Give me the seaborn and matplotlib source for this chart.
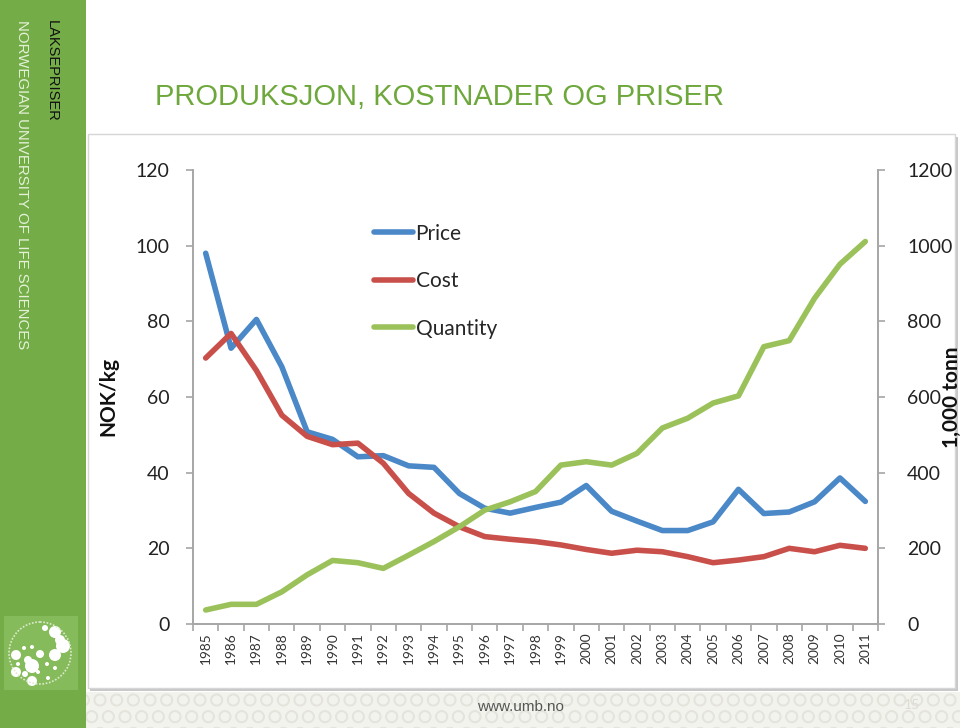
import numpy as np
import pandas as pd
import matplotlib.pyplot as plt
from matplotlib.patches import Rectangle, Circle
from matplotlib.lines import Line2D
import seaborn as sns

# data
years = list(range(1985, 2012))
price = [98.0, 72.9, 80.5, 68.0, 50.8, 48.8, 44.2, 44.5, 41.8, 41.4, 34.5, 30.6, 29.3, 30.8,
         32.2, 36.6, 29.8, 27.2, 24.7, 24.7, 27.0, 35.6, 29.2, 29.6, 32.3, 38.6, 32.4]
cost = [70.3, 76.8, 67.0, 55.2, 49.6, 47.4, 47.8, 42.5, 34.5, 29.3, 25.7, 23.1, 22.4, 21.8,
        20.9, 19.7, 18.7, 19.5, 19.1, 17.8, 16.2, 16.9, 17.8, 20.0, 19.1, 20.8, 20.0]
quantity = [37, 52, 52, 85, 130, 168, 162, 147, 182, 218, 257, 301, 323, 350,
            420, 429, 420, 451, 518, 544, 584, 603, 733, 749, 861, 951, 1011]

df = pd.DataFrame({'year': years, 'Price': price, 'Cost': cost, 'Quantity': quantity})

left_ticks = [0, 20, 40, 60, 80, 100, 120]
right_ticks = [0, 200, 400, 600, 800, 1000, 1200]

blue = '#4a88c8'
red = '#c9504a'
green = '#9bc25a'
gray = '#a6a6a6'
slide_green = '#74ad47'

sns.set_theme(style='white')
plt.rcParams['font.family'] = ['Lato', 'DejaVu Sans']

fig = plt.figure(figsize=(9.6, 7.28), dpi=100)

# slide background in pixel coordinates
bg = fig.add_axes([0, 0, 1, 1])
bg.set_xlim(0, 960)
bg.set_ylim(728, 0)
bg.axis('off')
bg.add_patch(Rectangle((0, 0), 86, 728, facecolor=slide_green, edgecolor='none'))
bg.add_patch(Rectangle((86, 692), 874, 36, facecolor='#f3f3ee', edgecolor='#e4e4dc',
                       hatch='O', linewidth=0))
bg.add_patch(Rectangle((90, 137), 868, 554, facecolor='#c8c8c8', edgecolor='none'))
bg.add_patch(Rectangle((88, 134), 867, 554, facecolor='white', edgecolor='#d6d6d6', linewidth=1))

# logo block
bg.add_patch(Rectangle((4, 616), 74, 74, facecolor='#86bb5c', edgecolor='none'))
for cx, cy, r in [(45, 628, 3), (55, 632, 6), (60, 640, 5), (63, 646, 7), (24, 648, 2),
                  (32, 647, 2), (16, 655, 5), (28, 660, 4), (40, 654, 4), (55, 655, 6),
                  (18, 664, 2), (32, 666, 7), (47, 664, 2), (55, 668, 2), (16, 672, 5),
                  (25, 674, 3), (38, 672, 2), (32, 681, 5), (48, 678, 2)]:
    bg.add_patch(Circle((cx, cy), r, facecolor='white', edgecolor='none'))
bg.add_patch(Circle((40, 653), 31, facecolor='none', edgecolor='#dcebcc', linewidth=1.2,
                    linestyle=(0, (1, 1))))

bg.text(52, 20, 'LAKSEPRISER', rotation=-90, ha='center', va='top', fontsize=10.5,
        color='#111111', family=['Liberation Sans', 'DejaVu Sans'])
bg.text(22, 20, 'NORWEGIAN UNIVERSITY OF LIFE SCIENCES', rotation=-90, ha='center', va='top',
        fontsize=10.8, color='#e4f1d8', family=['Liberation Sans', 'DejaVu Sans'])
bg.text(155, 97, 'PRODUKSJON, KOSTNADER OG PRISER', ha='left', va='center', fontsize=21,
        color='#6ea83c', family=['Liberation Sans Narrow', 'Liberation Sans', 'DejaVu Sans'])
bg.text(520, 707, 'www.umb.no', ha='center', va='center', fontsize=11, color='#555555',
        family=['Liberation Sans', 'DejaVu Sans'])
bg.text(912, 705, '15', ha='center', va='center', fontsize=10, color='#dcdcd4')

# chart
ax = fig.add_axes([193 / 960, 1 - 624 / 728, 685 / 960, 454 / 728])
ax.patch.set_alpha(0)
sns.lineplot(data=df, x='year', y='Price', ax=ax, color=blue, linewidth=4, label='Price',
             legend=False)
sns.lineplot(data=df, x='year', y='Cost', ax=ax, color=red, linewidth=4, label='Cost',
             legend=False)
ax2 = ax.twinx()
sns.lineplot(data=df, x='year', y='Quantity', ax=ax2, color=green, linewidth=4,
             label='Quantity', legend=False)

ax.set_xlim(1984.5, 2011.5)
ax.set_ylim(0, 120)
ax2.set_ylim(0, 1200)
ax.set_yticks(left_ticks)
ax2.set_yticks(right_ticks)
ax.set_xticks(years)
ax.set_xticklabels([str(y) for y in years], rotation=90)
ax.set_xticks(np.arange(1984.5, 2012, 1), minor=True)

for s in ['top', 'right']:
    ax.spines[s].set_visible(False)
for s in ['top', 'left', 'bottom']:
    ax2.spines[s].set_visible(False)
for s in [ax.spines['left'], ax.spines['bottom'], ax2.spines['right']]:
    s.set_color(gray)
    s.set_linewidth(1.4)

ax.tick_params(axis='y', which='major', direction='out', length=5, width=1.2, color=gray,
               labelsize=14, labelcolor='#222222', pad=12, left=True)
ax.tick_params(axis='x', which='major', length=0, labelsize=9.8, labelcolor='#333333', pad=6)
ax.tick_params(axis='x', which='minor', direction='out', length=5, width=1.2, color=gray,
               bottom=True)
ax2.tick_params(axis='y', direction='out', length=5, width=1.2, color=gray, labelsize=14,
                labelcolor='#222222', pad=16, right=True)

ax.set_xlabel('')
ax.set_ylabel('NOK/kg', fontsize=15, fontweight='bold', color='#111111')
ax.yaxis.set_label_coords(-0.109, 0.5)
ax2.set_ylabel('1,000 tonn', fontsize=15, fontweight='bold', color='#111111')
ax2.yaxis.set_label_coords(1.093, 0.5)

handles = [Line2D([], [], color=blue, linewidth=4),
           Line2D([], [], color=red, linewidth=4),
           Line2D([], [], color=green, linewidth=4)]
ax.legend(handles, ['Price', 'Cost', 'Quantity'], loc='upper left',
          bbox_to_anchor=(0.264, 0.882), frameon=False, fontsize=15, handlelength=1.9,
          handletextpad=0.1, labelspacing=1.32, borderaxespad=0, borderpad=0)

fig.savefig('out.png', dpi=100)
